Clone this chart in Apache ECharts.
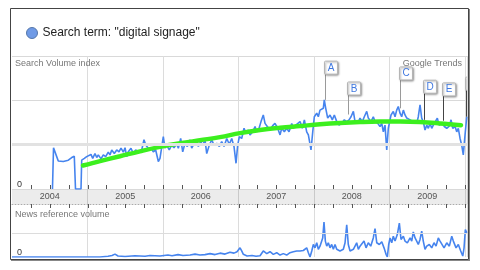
<!DOCTYPE html>
<html>
<head>
<meta charset="utf-8">
<script src="https://cdn.jsdelivr.net/npm/echarts@6.0.0/dist/echarts.min.js"></script>
<style>html,body{margin:0;padding:0;background:#fff;}#chart{width:480px;height:270px;}</style>
</head>
<body>
<div id="chart"></div>
<script>
// ---- data (x in decimal years) ----
const seriesName = 'Search term: "digital signage"';
const yearLabels = ['2004', '2005', '2006', '2007', '2008', '2009'];

const searchVolume = [
  [2004.536,0],[2004.550,0.93],[2004.570,0.93],[2004.592,0.73],[2004.613,0.63],[2004.679,0.62],[2004.746,0.65],
  [2004.791,0.71],[2004.825,0.74],[2004.841,0],[2004.914,0],[2004.923,0.65],[2004.958,0.69],[2004.989,0.73],
  [2005.011,0.69],[2005.046,0.78],[2005.069,0.69],[2005.099,0.80],[2005.122,0.71],[2005.143,0.77],[2005.179,0.68],
  [2005.209,0.77],[2005.241,0.73],[2005.275,0.83],[2005.298,0.77],[2005.321,0.88],[2005.355,0.80],[2005.387,0.88],
  [2005.417,0.84],[2005.444,0.92],[2005.474,0.83],[2005.497,0.93],[2005.519,0.73],[2005.540,0.84],[2005.576,0.92],
  [2005.607,0.80],[2005.638,0.88],[2005.673,0.83],[2005.718,0.88],[2005.748,1.11],[2005.771,0.99],[2005.805,0.92],
  [2005.841,0.93],[2005.871,0.84],[2005.903,0.88],[2005.938,0.62],[2005.960,0.69],[2005.983,0.65],[2006.004,1.18],
  [2006.026,0.92],[2006.049,0.99],[2006.083,0.88],[2006.115,0.99],[2006.146,0.93],[2006.181,1.03],[2006.203,0.92],
  [2006.234,1.14],[2006.261,0.84],[2006.291,1.03],[2006.322,0.96],[2006.358,1.11],[2006.380,0.92],[2006.401,0.99],
  [2006.437,1.11],[2006.468,0.96],[2006.499,1.07],[2006.526,0.99],[2006.556,1.11],[2006.579,0.80],[2006.613,0.99],
  [2006.645,1.11],[2006.675,0.99],[2006.711,1.03],[2006.746,0.96],[2006.777,1.07],[2006.808,0.96],[2006.844,1.14],
  [2006.878,1.01],[2006.910,1.14],[2006.940,0.96],[2006.967,0.58],[2006.989,0.99],[2007.011,1.18],[2007.042,1.14],
  [2007.073,1.37],[2007.099,1.26],[2007.130,1.33],[2007.152,1.22],[2007.188,1.29],[2007.219,1.41],[2007.241,1.29],
  [2007.272,1.37],[2007.298,1.52],[2007.328,1.67],[2007.351,1.48],[2007.381,1.41],[2007.417,1.33],[2007.453,1.43],
  [2007.483,1.48],[2007.519,1.37],[2007.550,1.22],[2007.572,1.37],[2007.607,1.29],[2007.638,1.37],[2007.669,1.29],
  [2007.705,1.48],[2007.726,1.37],[2007.758,1.44],[2007.784,1.41],[2007.815,1.52],[2007.845,1.37],[2007.872,1.56],
  [2007.903,1.29],[2007.925,1.22],[2007.960,0.88],[2007.983,1.29],[2008.004,1.63],[2008.036,1.71],[2008.057,1.63],
  [2008.079,1.78],[2008.102,1.75],[2008.123,1.82],[2008.136,2.01],[2008.155,1.82],[2008.181,1.60],[2008.212,1.67],
  [2008.242,1.56],[2008.269,1.67],[2008.301,1.52],[2008.331,1.44],[2008.367,1.48],[2008.401,1.56],[2008.433,1.52],
  [2008.464,1.56],[2008.490,1.63],[2008.521,1.75],[2008.543,1.52],[2008.579,1.48],[2008.609,1.60],[2008.640,1.52],
  [2008.666,1.63],[2008.698,1.75],[2008.719,1.60],[2008.755,1.52],[2008.785,1.63],[2008.808,1.52],[2008.844,1.48],
  [2008.874,1.41],[2008.897,1.48],[2008.918,1.29],[2008.940,1.44],[2008.963,0.88],[2008.984,1.37],[2009.020,1.67],
  [2009.050,1.75],[2009.073,1.63],[2009.095,1.78],[2009.116,1.86],[2009.139,1.71],[2009.161,1.63],[2009.183,1.78],
  [2009.205,1.67],[2009.228,1.60],[2009.249,1.63],[2009.272,1.56],[2009.294,1.60],[2009.315,1.52],[2009.338,1.56],
  [2009.360,1.48],[2009.381,1.63],[2009.404,1.90],[2009.426,1.60],[2009.447,1.52],[2009.470,1.33],[2009.493,1.44],
  [2009.514,1.37],[2009.536,1.48],[2009.559,1.37],[2009.580,1.44],[2009.603,1.41],[2009.633,1.60],[2009.656,1.44],
  [2009.682,1.41],[2009.699,1.48],[2009.726,1.41],[2009.758,1.37],[2009.788,1.41],[2009.815,1.56],[2009.837,1.37],
  [2009.868,1.41],[2009.890,1.29],[2009.911,1.37],[2009.934,1.14],[2009.956,0.99],[2009.977,0.77],[2010.000,1.22],
  [2010.023,1.63]
];

const searchTrend = [
  [2004.940,0.53],[2005.166,0.63],[2005.430,0.74],[2005.695,0.85],[2005.960,0.95],[2006.225,1.03],[2006.490,1.10],
  [2006.755,1.17],[2007.020,1.26],[2007.285,1.33],[2007.550,1.38],[2007.815,1.42],[2008.079,1.46],[2008.344,1.49],
  [2008.609,1.51],[2008.874,1.52],[2009.139,1.52],[2009.404,1.51],[2009.669,1.48],[2009.947,1.44]
];

const newsVolume = [
  [2004.000,0],[2005.166,0],[2005.272,0.03],[2005.325,0.06],[2005.364,0.12],[2005.404,0.04],[2005.497,0.02],
  [2005.629,0.05],[2005.762,0.03],[2005.828,0.06],[2005.960,0.04],[2006.066,0.08],[2006.119,0.05],[2006.199,0.10],
  [2006.265,0.06],[2006.358,0.08],[2006.424,0.12],[2006.490,0.08],[2006.556,0.10],[2006.623,0.14],[2006.689,0.10],
  [2006.755,0.16],[2006.821,0.12],[2006.887,0.20],[2006.940,0.16],[2006.980,0.22],[2007.020,0.38],[2007.042,0.25],
  [2007.064,0.11],[2007.113,0.04],[2007.179,0.06],[2007.232,0.03],[2007.285,0.05],[2007.328,0.25],[2007.374,0.14],
  [2007.417,0.22],[2007.461,0.11],[2007.506,0.18],[2007.550,0.08],[2007.593,0.14],[2007.638,0.08],[2007.682,0.18],
  [2007.726,0.22],[2007.771,0.25],[2007.815,0.25],[2007.858,0.27],[2007.903,0.38],[2007.925,0.18],[2007.947,0],
  [2007.970,0.25],[2007.991,0.52],[2008.013,0.38],[2008.036,0.59],[2008.057,0.32],[2008.079,0.45],[2008.102,0.52],
  [2008.115,0.79],[2008.132,1.45],[2008.150,0.66],[2008.168,0.45],[2008.189,0.59],[2008.212,0.38],[2008.234,0.52],
  [2008.256,0.32],[2008.278,0.52],[2008.301,0.32],[2008.344,0.25],[2008.388,0.32],[2008.411,0.59],[2008.433,1.34],
  [2008.454,0.52],[2008.477,0.25],[2008.521,0.32],[2008.565,0.59],[2008.587,0.32],[2008.609,0.45],[2008.632,0.38],
  [2008.662,0.66],[2008.689,0.38],[2008.719,0.59],[2008.751,0.45],[2008.785,0.79],[2008.808,1.18],[2008.831,0.59],
  [2008.865,0.52],[2008.897,0.63],[2008.927,0.38],[2008.954,0.11],[2008.971,0],[2008.989,0.52],[2009.007,0.79],
  [2009.029,0.59],[2009.050,0.86],[2009.073,0.66],[2009.103,0.93],[2009.130,1.41],[2009.152,0.73],[2009.183,0.86],
  [2009.205,0.66],[2009.236,0.59],[2009.272,0.79],[2009.294,0.66],[2009.315,1.04],[2009.338,0.79],[2009.360,0.66],
  [2009.381,0.52],[2009.404,0.73],[2009.426,1.07],[2009.447,0.66],[2009.470,0.32],[2009.493,0.45],[2009.527,0.52],
  [2009.559,0.38],[2009.589,0.59],[2009.616,0.45],[2009.646,0.79],[2009.669,0.66],[2009.691,0.73],[2009.722,0.38],
  [2009.758,0.59],[2009.792,0.45],[2009.824,0.86],[2009.845,0.66],[2009.881,0.38],[2009.911,0.52],[2009.943,0.25],
  [2009.970,0.04],[2009.987,0.38],[2010.004,1.14],[2010.023,1.00]
];

// news flags: letter, year, value where the pole meets the line, value of the flag box bottom
const flagLetters = ['A', 'B', 'C', 'D', 'E', 'F'];
const flagYears   = [2008.146, 2008.454, 2009.143, 2009.453, 2009.705, 2010.013];
const flagOnLine  = [2.01, 1.68, 1.82, 1.56, 1.54, 1.63];
const flagTops    = [2.59, 2.12, 2.46, 2.16, 2.10, 2.23];

// ---- chart ----
const FONT = '"Liberation Sans", Arial, sans-serif';
const labelValues = yearLabels.map(y => Number(y) + 0.5);
const quarterTicks = [];
for (let y = 2004; y <= 2010; y++) for (let q = 0; q < 4; q++) { const v = y + q / 4; if (v > 2004 && v <= 2010) quarterTicks.push(v); }
const X_MIN = 2004, X_MAX = 2010.026;
const BAND_H = 15;
const darkPoles = { D: true, E: true, F: true };

const chart = echarts.init(document.getElementById('chart'), null, { renderer: 'canvas' });

const xBase = (grid) => ({
  type: 'value', gridIndex: grid, min: X_MIN, max: X_MAX, interval: 1, position: 'bottom',
  axisLine: { show: false, onZero: false }, axisLabel: { show: false }, axisTick: { show: false },
  splitLine: { show: true, showMinLine: false, lineStyle: { color: '#dcdcdc', width: 1 } }
});

const option = {
  animation: false,
  backgroundColor: '#fff',
  textStyle: { fontFamily: FONT },
  legend: {
    left: 21, top: 22, icon: 'circle', itemWidth: 11, itemHeight: 11, itemGap: 6,
    data: [{ name: seriesName, itemStyle: { color: '#6f9ae6', borderColor: '#5577aa', borderWidth: 1 } }],
    textStyle: { fontSize: 12, color: '#222', fontFamily: FONT }
  },
  grid: [
    { left: 12, right: 13, top: 56, height: 133 },
    { left: 12, right: 13, top: 204, height: 53 },
    { left: 12, right: 13, top: 189, height: BAND_H, show: true, backgroundColor: '#ececec', borderWidth: 0 }
  ],
  xAxis: [
    xBase(0),
    Object.assign(xBase(1), { position: 'top', axisLine: { show: true, onZero: false, lineStyle: { color: '#aaa', type: [1, 2] } } }),
    Object.assign(xBase(2), {
      splitLine: { show: true, showMinLine: false, lineStyle: { color: '#c9c9c9' } },
      axisLabel: {
        show: true, inside: true, margin: 3, customValues: labelValues,
        formatter: v => yearLabels[Math.floor(v) - 2004], color: '#555', fontSize: 9, fontFamily: FONT
      }
    })
  ],
  yAxis: [
    {
      type: 'value', gridIndex: 0, min: 0, max: 3, interval: 1, position: 'left',
      axisLine: { show: false }, axisTick: { show: false },
      axisLabel: { show: true, inside: true, margin: 5, verticalAlign: 'bottom', color: '#333', fontSize: 9, fontFamily: FONT,
        formatter: v => (v === 0 ? '0' : '') },
      splitLine: { show: true, lineStyle: { color: '#d9d9d9' } }
    },
    {
      type: 'value', gridIndex: 1, min: 0, max: 2.2, interval: 1, position: 'left',
      axisLine: { show: false }, axisTick: { show: false },
      axisLabel: { show: true, inside: true, margin: 5, verticalAlign: 'bottom', color: '#333', fontSize: 9, fontFamily: FONT,
        formatter: v => (v === 0 ? '0' : '') },
      splitLine: { show: false }
    },
    { type: 'value', gridIndex: 2, min: 0, max: 1, show: false, splitLine: { show: false } }
  ],
  series: [
    {
      name: 'avg', type: 'line', xAxisIndex: 0, yAxisIndex: 0, data: [], z: 1, silent: true,
      markLine: { silent: true, symbol: 'none', label: { show: false }, lineStyle: { color: '#e2e2e2', width: 3, type: 'solid' }, data: [{ yAxis: 1 }] }
    },
    {
      name: 'newsgrid', type: 'line', xAxisIndex: 1, yAxisIndex: 1, data: [], z: 1, silent: true,
      markLine: { silent: true, symbol: 'none', label: { show: false }, lineStyle: { color: '#dcdcdc', width: 1, type: 'solid' }, data: [{ yAxis: 1 }] }
    },
    {
      name: seriesName, type: 'line', xAxisIndex: 0, yAxisIndex: 0, data: searchVolume,
      showSymbol: false, z: 3, color: '#4684ee',
      lineStyle: { color: '#4684ee', width: 1.6 }
    },
    {
      name: 'trend', type: 'line', xAxisIndex: 0, yAxisIndex: 0, data: searchTrend,
      showSymbol: false, smooth: 0.4, z: 4,
      lineStyle: { color: '#3cef1e', width: 4.5, cap: 'round' }
    },
    {
      name: 'news', type: 'line', xAxisIndex: 1, yAxisIndex: 1, data: newsVolume,
      showSymbol: false, z: 3,
      lineStyle: { color: '#4684ee', width: 1.6 }
    },
    {
      // quarter tick marks above and below the year band (axis decoration), drawn as filled 1px rects
      name: 'quarterTicks', type: 'custom', xAxisIndex: 0, yAxisIndex: 0, z: 7, clip: false, silent: true,
      data: quarterTicks.map(v => [v, 0]),
      encode: { x: 0, y: 1 },
      renderItem: function (params, api) {
        const p = api.coord([api.value(0), 0]);
        const x = Math.round(p[0]);
        const yTop = Math.round(p[1]);
        const yBot = yTop + BAND_H;
        return {
          type: 'group',
          children: [
            { type: 'rect', shape: { x: x, y: yTop - 4, width: 1, height: 4 }, style: { fill: '#555' } },
            { type: 'rect', shape: { x: x, y: yBot, width: 1, height: 4 }, style: { fill: '#555' } }
          ]
        };
      }
    },
    {
      name: 'flags', type: 'custom', xAxisIndex: 0, yAxisIndex: 0, z: 6, clip: true,
      data: flagLetters.map((l, i) => [flagYears[i], flagOnLine[i], flagTops[i]]),
      encode: { x: 0, y: [1, 2] },
      renderItem: function (params, api) {
        const letter = flagLetters[params.dataIndex];
        const p0 = api.coord([api.value(0), api.value(1)]);
        const p1 = api.coord([api.value(0), api.value(2)]);
        const x = Math.round(p0[0]) + 0.5;
        return {
          type: 'group',
          children: [
            { type: 'line', shape: { x1: x, y1: p0[1], x2: x, y2: p1[1] },
              style: { stroke: darkPoles[letter] ? '#444' : '#9a9a9a', lineWidth: 1 } },
            { type: 'rect', shape: { x: x - 1, y: p1[1] - 13, width: 13, height: 13, r: 1 },
              style: { fill: '#fff', stroke: '#b5b5b5', lineWidth: 1, shadowBlur: 2, shadowOffsetX: 1, shadowOffsetY: 1, shadowColor: 'rgba(0,0,0,0.35)' } },
            { type: 'text', style: { text: letter, x: x + 5.5, y: p1[1] - 6.2, align: 'center', verticalAlign: 'middle',
              fill: '#3f78e0', font: '10px ' + FONT } }
          ]
        };
      }
    }
  ],
  graphic: [
    { type: 'rect', shape: { x: 10.5, y: 8.5, width: 458, height: 251 }, style: { fill: 'none', stroke: '#444', lineWidth: 1 }, z: 100 },
    { type: 'line', shape: { x1: 469.5, y1: 9, x2: 469.5, y2: 261 }, style: { stroke: '#888', lineWidth: 1 }, z: 100 },
    { type: 'line', shape: { x1: 11, y1: 260.5, x2: 470, y2: 260.5 }, style: { stroke: '#888', lineWidth: 1 }, z: 100 },
    { type: 'text', left: 15, top: 59, style: { text: 'Search Volume index', fill: '#777', font: '9px ' + FONT }, z: 100 },
    { type: 'text', right: 18, top: 59, style: { text: 'Google Trends', fill: '#777', font: '9px ' + FONT }, z: 100 },
    { type: 'text', left: 15, top: 210, style: { text: 'News reference volume', fill: '#777', font: '9px ' + FONT }, z: 100 }
  ]
};
chart.setOption(option);
</script>
</body>
</html>
